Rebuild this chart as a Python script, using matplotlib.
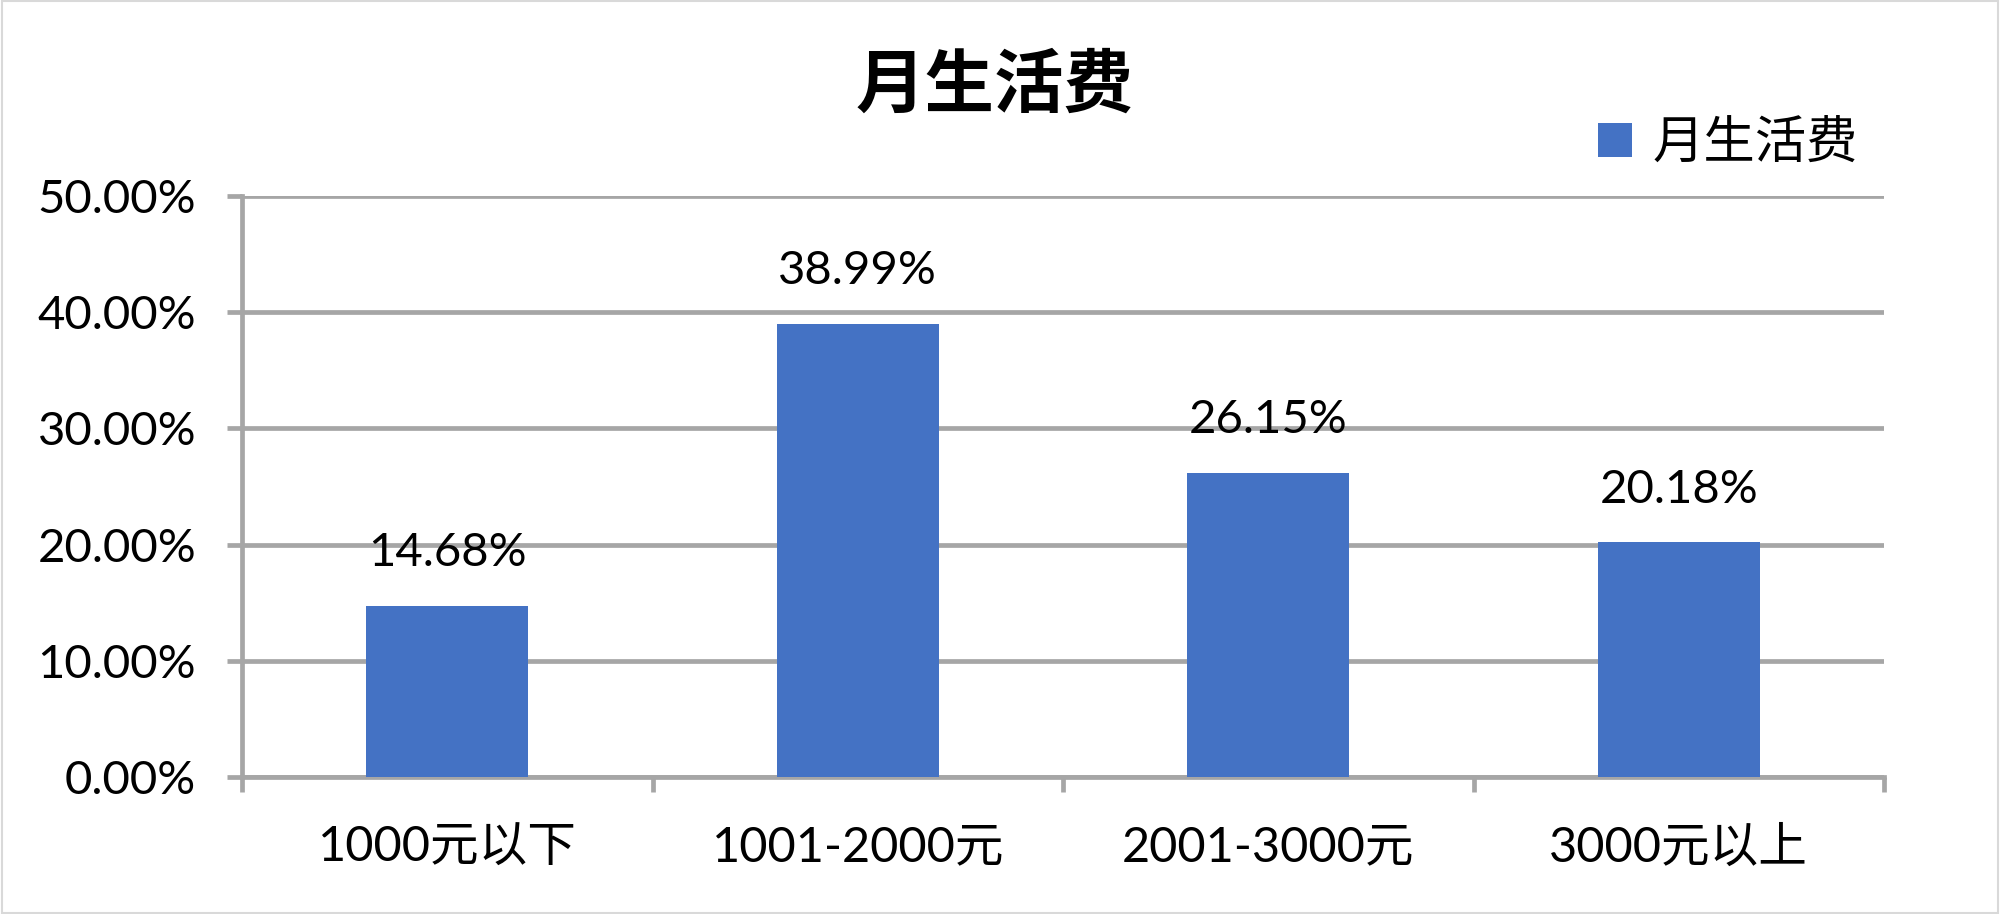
import matplotlib.pyplot as plt
from matplotlib.ticker import FixedLocator, PercentFormatter
from matplotlib.patches import Rectangle

plt.rcParams['font.family'] = ['Lato', 'Noto Sans CJK SC', 'DejaVu Sans']

categories = ['1000元以下', '1001-2000元', '2001-3000元', '3000元以上']
values = [14.68, 38.99, 26.15, 20.18]
series_name = '月生活费'
yticks = [0, 10, 20, 30, 40, 50]

grey = '#A6A6A6'
blue = '#4472C4'

fig = plt.figure(figsize=(20, 9.14), dpi=100)
ax = fig.add_axes([0.121, 0.1499, 0.821, 0.6357])

x = range(len(categories))
bars = ax.bar(x, values, width=0.395, color=blue, label=series_name, zorder=3)

# data labels above the bars
for b, v in zip(bars, values):
    ax.annotate('%.2f%%' % v, (b.get_x() + b.get_width() / 2, v),
                xytext=(0, 23), textcoords='offset points',
                ha='center', va='bottom', fontsize=34, color='black')

ax.set_xlim(-0.5, len(categories) - 0.5)
ax.set_ylim(0, 50)
ax.set_yticks(yticks)
ax.yaxis.set_major_formatter(PercentFormatter(decimals=2))
ax.grid(axis='y', color=grey, linewidth=3.4, zorder=0)

# ticks between categories, labels at the centres
ax.xaxis.set_major_locator(FixedLocator([i - 0.5 for i in range(len(categories) + 1)]))
ax.xaxis.set_minor_locator(FixedLocator(list(x)))
ax.set_xticklabels([], minor=False)
ax.set_xticklabels(categories, minor=True, fontsize=35)
ax.tick_params(axis='x', which='major', length=11, width=3.4, color=grey)
ax.tick_params(axis='x', which='minor', length=0, pad=35)
ax.tick_params(axis='y', length=11, width=3.4, color=grey, labelsize=34, pad=22)

for side in ['top', 'right']:
    ax.spines[side].set_visible(False)
for side in ['left', 'bottom']:
    ax.spines[side].set_color(grey)
    ax.spines[side].set_linewidth(3.4)

fig.text(0.4975, 0.905, series_name, ha='center', va='center',
         fontsize=50, fontweight='bold', family=['Noto Sans CJK SC'])

fig.legend(handles=[bars], labels=[series_name], loc='center left',
           bbox_to_anchor=(0.776, 0.843), frameon=False,
           handlelength=0.65, handleheight=0.65, handletextpad=0.4,
           prop={'family': ['Noto Sans CJK SC'], 'size': 37})

fig.patches.append(Rectangle((0.001, 0.001), 0.998, 0.998, transform=fig.transFigure,
                             fill=False, edgecolor='#D9D9D9', linewidth=1.5))

fig.savefig('out.png', dpi=100)
